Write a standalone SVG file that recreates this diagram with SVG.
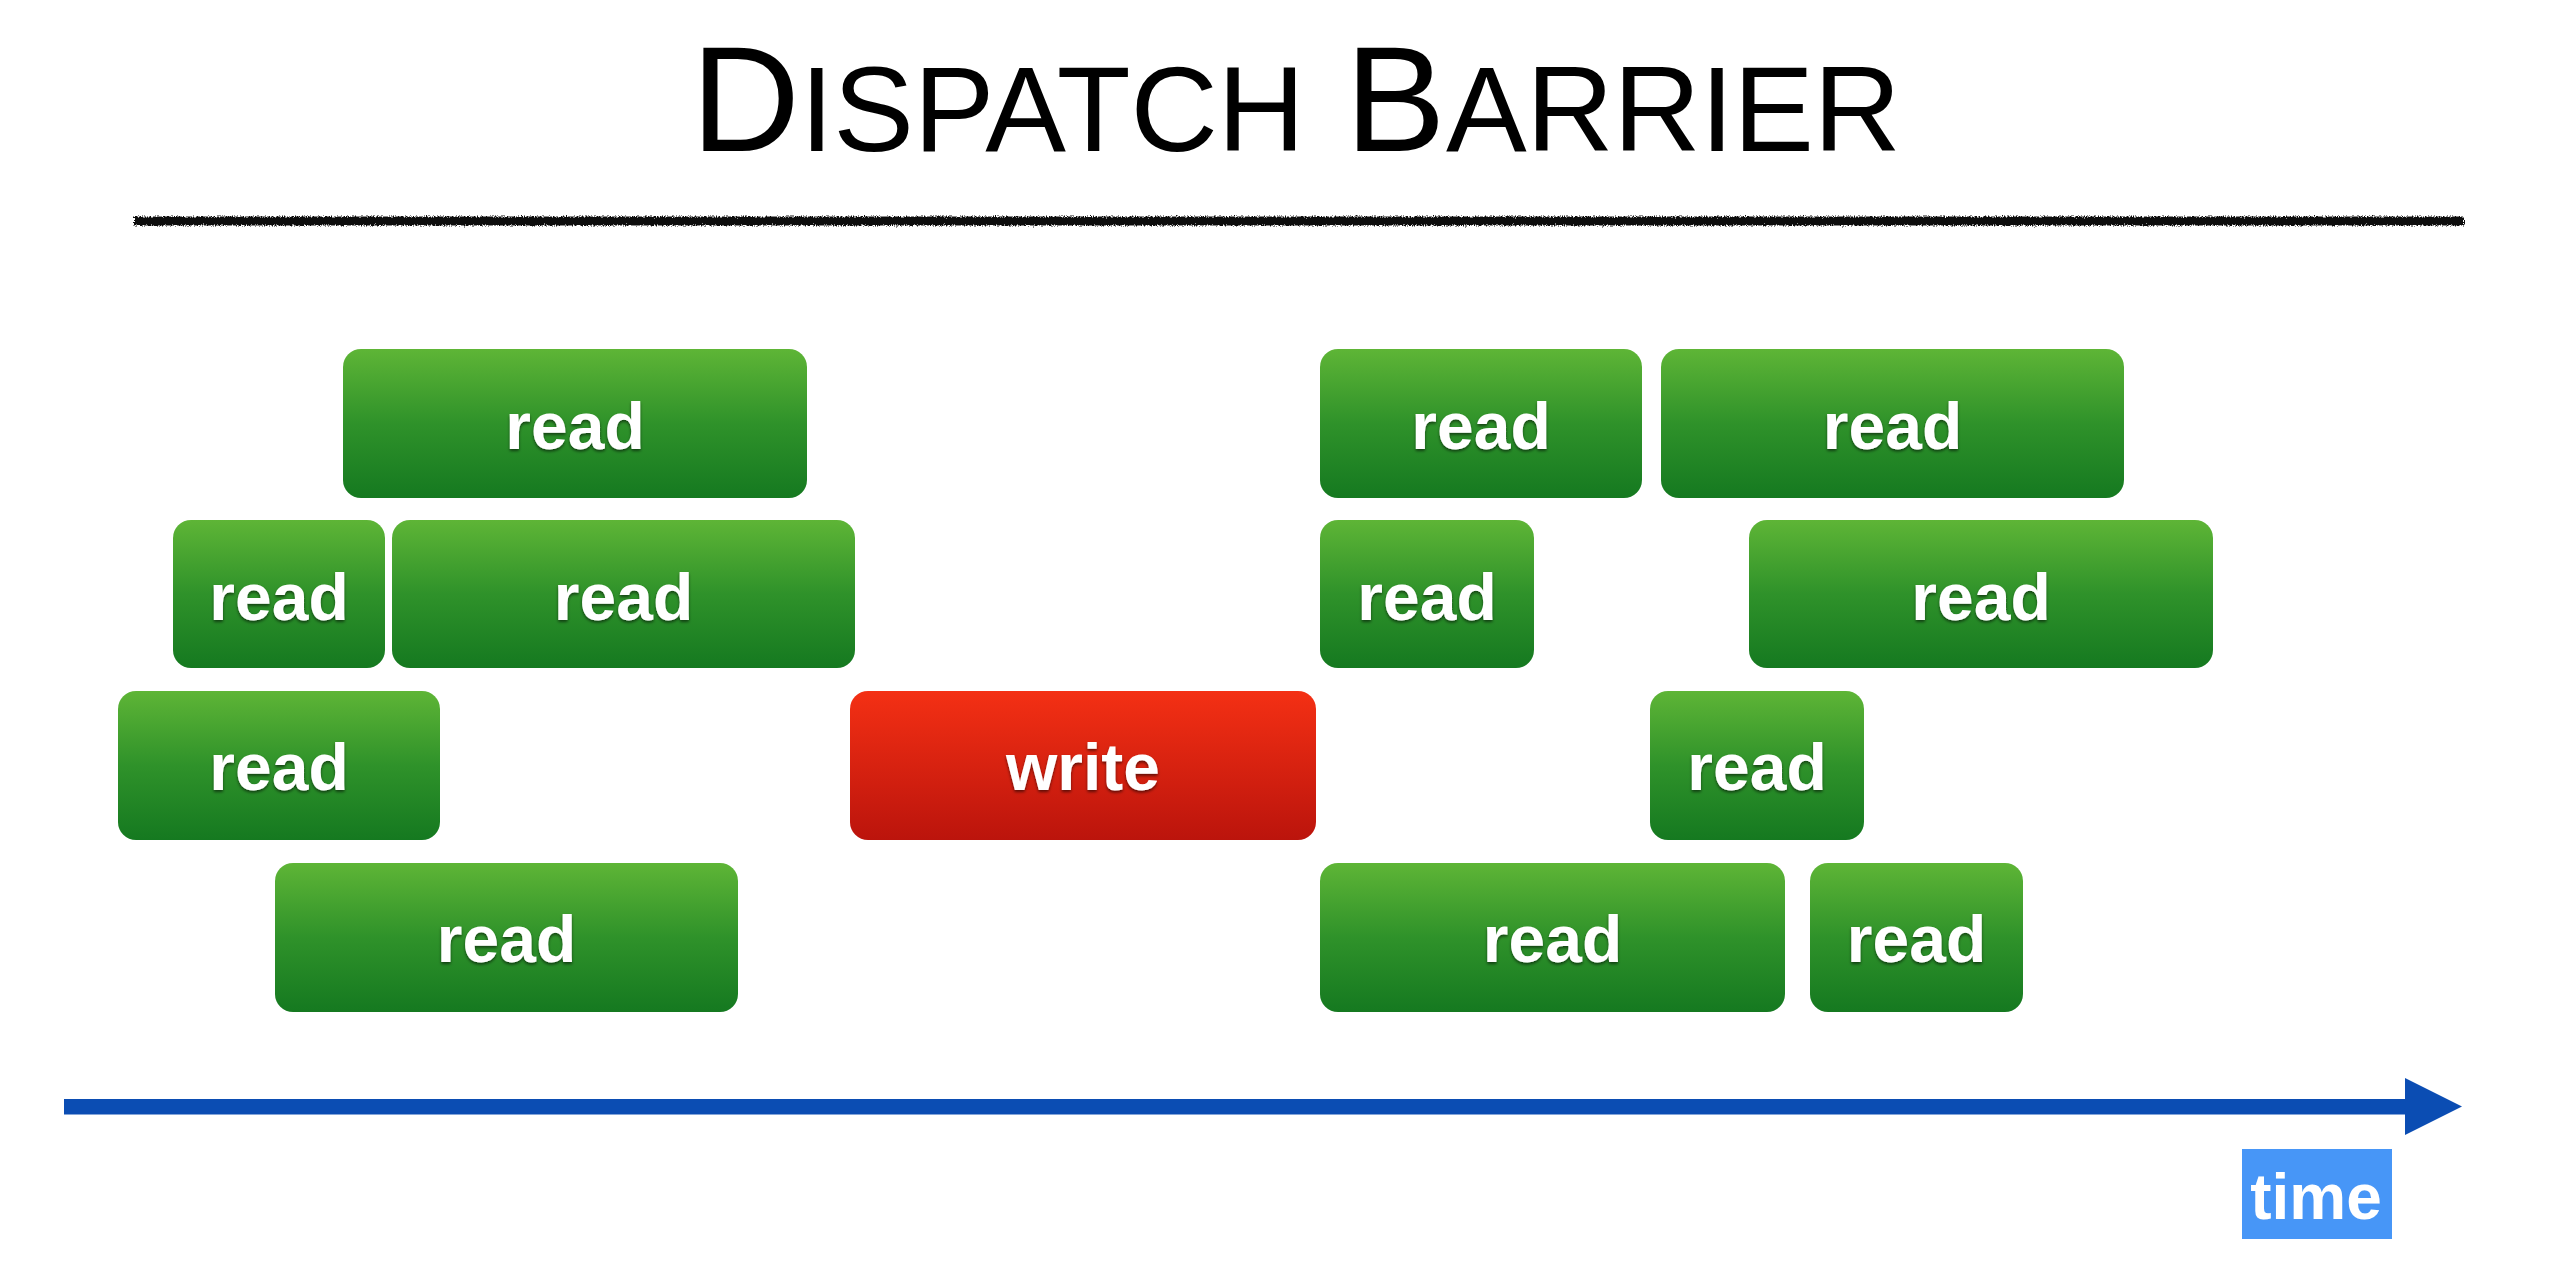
<svg xmlns="http://www.w3.org/2000/svg" width="2556" height="1274" viewBox="0 0 2556 1274">
  <defs>
    <linearGradient id="gGreen" x1="0" y1="0" x2="0" y2="1">
      <stop offset="0" stop-color="#5EB536"/>
      <stop offset="0.5" stop-color="#2F922A"/>
      <stop offset="1" stop-color="#157920"/>
    </linearGradient>
    <linearGradient id="gRed" x1="0" y1="0" x2="0" y2="1">
      <stop offset="0" stop-color="#F43014"/>
      <stop offset="1" stop-color="#BB140C"/>
    </linearGradient>
    <filter id="shadow" x="-20%" y="-20%" width="140%" height="160%">
      <feDropShadow dx="0" dy="2" stdDeviation="1.6" flood-color="#000" flood-opacity="0.55"/>
    </filter>
    <filter id="rough" x="-1%" y="-150%" width="102%" height="400%">
      <feTurbulence type="fractalNoise" baseFrequency="0.9 0.6" numOctaves="2" seed="4" result="n"/>
      <feDisplacementMap in="SourceGraphic" in2="n" scale="5" xChannelSelector="R" yChannelSelector="G"/>
    </filter>
    <style>
      .read rect { fill: url(#gGreen); }
      .write rect { fill: url(#gRed); }
      .lbl { font-family: "Liberation Sans", Arial, Helvetica, sans-serif; font-weight: bold; font-size: 66px; fill: #fff; text-anchor: middle; filter: url(#shadow); }
      .title { font-family: "Liberation Sans", Arial, Helvetica, sans-serif; fill: #000; }
    </style>
  </defs>
  <rect width="2556" height="1274" fill="#fff"/>

  <g id="title">
    <text class="title" x="691" y="151" font-size="151">D</text>
    <text class="title" x="800" y="151" font-size="121" textLength="505">ISPATCH</text>
    <text class="title" x="1345" y="151" font-size="151">B</text>
    <text class="title" x="1446" y="151" font-size="121" textLength="455">ARRIER</text>
  </g>
  <g id="rule">
    <rect x="134" y="216.5" width="2330" height="9" fill="#111" filter="url(#rough)"/>
  </g>

  <g id="read-a" class="read"><rect x="343" y="349" width="464" height="149" rx="18"/><text class="lbl" x="575" y="449">read</text></g>
  <g id="read-b" class="read"><rect x="1320" y="349" width="322" height="149" rx="18"/><text class="lbl" x="1481" y="449">read</text></g>
  <g id="read-c" class="read"><rect x="1661" y="349" width="463" height="149" rx="18"/><text class="lbl" x="1892.5" y="449">read</text></g>

  <g id="read-d" class="read"><rect x="173" y="520" width="212" height="148" rx="18"/><text class="lbl" x="279" y="620">read</text></g>
  <g id="read-e" class="read"><rect x="392" y="520" width="463" height="148" rx="18"/><text class="lbl" x="623.5" y="620">read</text></g>
  <g id="read-f" class="read"><rect x="1320" y="520" width="214" height="148" rx="18"/><text class="lbl" x="1427" y="620">read</text></g>
  <g id="read-g" class="read"><rect x="1749" y="520" width="464" height="148" rx="18"/><text class="lbl" x="1981" y="620">read</text></g>

  <g id="read-h" class="read"><rect x="118" y="691" width="322" height="149" rx="18"/><text class="lbl" x="279" y="790">read</text></g>
  <g id="write" class="write"><rect x="850" y="691" width="466" height="149" rx="18"/><text class="lbl" x="1083" y="790">write</text></g>
  <g id="read-i" class="read"><rect x="1650" y="691" width="214" height="149" rx="18"/><text class="lbl" x="1757" y="790">read</text></g>

  <g id="read-j" class="read"><rect x="275" y="863" width="463" height="149" rx="18"/><text class="lbl" x="506.5" y="962">read</text></g>
  <g id="read-k" class="read"><rect x="1320" y="863" width="465" height="149" rx="18"/><text class="lbl" x="1552.5" y="962">read</text></g>
  <g id="read-l" class="read"><rect x="1810" y="863" width="213" height="149" rx="18"/><text class="lbl" x="1916.5" y="962">read</text></g>

  <g id="connectors">
    <rect x="64" y="1099" width="2343" height="15.5" fill="#0B4DB3"/>
    <polygon points="2405,1078 2462,1106.5 2405,1135" fill="#0B4DB3"/>
  </g>

  <g id="time-label">
    <rect x="2242" y="1149" width="150" height="90" fill="#4796F7"/>
    <text x="2316" y="1219" font-family="Liberation Sans, Arial, Helvetica, sans-serif" font-weight="bold" font-size="64" fill="#fff" text-anchor="middle">time</text>
  </g>
</svg>
